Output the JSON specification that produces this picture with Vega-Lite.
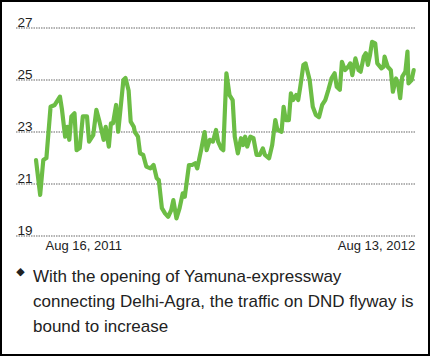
{
  "$schema": "https://vega.github.io/schema/vega-lite/v6.json",
  "width": 428,
  "height": 354,
  "padding": 1,
  "autosize": {"type": "none"},
  "background": "white",
  "config": {"view": {"stroke": "#000", "strokeWidth": 2}, "font": "Liberation Sans"},
  "title": {
    "text": ["With the opening of Yamuna-expressway", "connecting Delhi-Agra, the traffic on DND flyway is", "bound to increase"],
    "orient": "bottom", "anchor": "start", "frame": "group", "dx": 32, "offset": -73,
    "fontSize": 17, "fontWeight": "normal", "font": "Liberation Sans", "color": "#222",
    "lineHeight": 25, "baseline": "alphabetic"
  },
  "encoding": {
    "y": {"field": "v", "type": "quantitative",
          "scale": {"domain": [14.4231, 28.0385], "nice": false, "zero": false},
          "axis": {
            "values": [19, 21, 23, 25, 27], "grid": false, "domain": false, "ticks": false, "tickSize": 0,
            "labelPadding": -16, "labelAlign": "left", "labelBaseline": "alphabetic", "labelOffset": -2,
            "labelFontSize": 13.5, "labelColor": "#222", "labelFont": "Liberation Sans", "labelFlush": false,
            "title": null
          }}
  },
  "layer": [
    {
      "data": {"values": [{"v": 19}, {"v": 21}, {"v": 23}, {"v": 25}, {"v": 27}]},
      "mark": {"type": "rule", "color": "#999", "strokeWidth": 1.5, "strokeDash": [1.5, 1]},
      "encoding": {
        "x": {"datum": {"year": 2011, "month": 7, "date": 27, "hours": 18, "minutes": 42}, "type": "temporal",
              "scale": {"domain": [{"year": 2011, "month": 7, "date": 13, "hours": 8, "minutes": 36}, {"year": 2012, "month": 8, "date": 27, "hours": 16, "minutes": 48}], "nice": false},
              "axis": {
                "values": [{"year": 2011, "month": 8, "date": 16}, {"year": 2012, "month": 8, "date": 13}],
                "format": "%b %d, %Y", "offset": -118, "domain": false, "ticks": false, "tickSize": 0, "grid": false,
                "labelFlush": false, "labelOverlap": false, "labelPadding": 12.3, "labelBaseline": "alphabetic",
                "labelAlign": {"condition": {"test": "datum.index < 0.5", "value": "left"}, "value": "right"},
                "labelOffset": {"condition": {"test": "datum.index < 0.5", "value": 9}, "value": 1},
                "labelFontSize": 13, "labelColor": "#222", "labelFont": "Liberation Sans",
                "title": "◆", "titleX": 19, "titleY": 34, "titleFont": "DejaVu Sans", "titleFontSize": 11,
                "titleBaseline": "middle", "titleAlign": "center", "titleColor": "#222", "titleFontWeight": "normal"
              }},
        "x2": {"datum": {"year": 2012, "month": 8, "date": 14, "hours": 6}}
      }
    },
    {
      "data": {"values": [
        {"date": "2011/08/16", "v": 21.92}, {"date": "2011/08/20", "v": 20.58}, {"date": "2011/08/23", "v": 21.92},
        {"date": "2011/08/26", "v": 22.0}, {"date": "2011/08/30", "v": 23.97}, {"date": "2011/09/03", "v": 24.04},
        {"date": "2011/09/08", "v": 24.36}, {"date": "2011/09/10", "v": 23.85}, {"date": "2011/09/13", "v": 22.82},
        {"date": "2011/09/15", "v": 23.2}, {"date": "2011/09/17", "v": 22.7}, {"date": "2011/09/19", "v": 23.6},
        {"date": "2011/09/22", "v": 23.72}, {"date": "2011/09/24", "v": 22.3}, {"date": "2011/09/27", "v": 22.38},
        {"date": "2011/09/30", "v": 23.6}, {"date": "2011/10/04", "v": 23.6}, {"date": "2011/10/06", "v": 22.63},
        {"date": "2011/10/10", "v": 22.88}, {"date": "2011/10/13", "v": 23.85}, {"date": "2011/10/16", "v": 23.4},
        {"date": "2011/10/20", "v": 22.7}, {"date": "2011/10/22", "v": 23.2}, {"date": "2011/10/25", "v": 22.44},
        {"date": "2011/10/27", "v": 23.33}, {"date": "2011/10/29", "v": 23.33}, {"date": "2011/11/01", "v": 24.04},
        {"date": "2011/11/03", "v": 23.01}, {"date": "2011/11/08", "v": 25.0}, {"date": "2011/11/10", "v": 25.08},
        {"date": "2011/11/13", "v": 24.6}, {"date": "2011/11/15", "v": 23.4}, {"date": "2011/11/18", "v": 23.2},
        {"date": "2011/11/19", "v": 23.0}, {"date": "2011/11/22", "v": 22.82}, {"date": "2011/11/24", "v": 22.18},
        {"date": "2011/11/27", "v": 22.12}, {"date": "2011/11/30", "v": 21.67}, {"date": "2011/12/04", "v": 21.6},
        {"date": "2011/12/07", "v": 21.73}, {"date": "2011/12/10", "v": 21.22}, {"date": "2011/12/12", "v": 21.15},
        {"date": "2011/12/15", "v": 20.07}, {"date": "2011/12/18", "v": 19.87}, {"date": "2011/12/21", "v": 19.74},
        {"date": "2011/12/24", "v": 20.0}, {"date": "2011/12/26", "v": 20.38}, {"date": "2011/12/29", "v": 19.68},
        {"date": "2012/01/01", "v": 20.07}, {"date": "2012/01/04", "v": 20.64}, {"date": "2012/01/06", "v": 20.51},
        {"date": "2012/01/10", "v": 21.73}, {"date": "2012/01/13", "v": 21.73}, {"date": "2012/01/16", "v": 21.8},
        {"date": "2012/01/18", "v": 21.6}, {"date": "2012/01/22", "v": 22.37}, {"date": "2012/01/25", "v": 23.0},
        {"date": "2012/01/27", "v": 22.3}, {"date": "2012/01/30", "v": 22.7}, {"date": "2012/02/02", "v": 22.63},
        {"date": "2012/02/05", "v": 23.08}, {"date": "2012/02/07", "v": 22.63}, {"date": "2012/02/10", "v": 22.37},
        {"date": "2012/02/12", "v": 22.3}, {"date": "2012/02/15", "v": 25.26}, {"date": "2012/02/18", "v": 24.42},
        {"date": "2012/02/21", "v": 24.23}, {"date": "2012/02/23", "v": 22.82}, {"date": "2012/02/26", "v": 22.18},
        {"date": "2012/02/29", "v": 22.76}, {"date": "2012/03/02", "v": 22.5}, {"date": "2012/03/04", "v": 22.82},
        {"date": "2012/03/06", "v": 22.44}, {"date": "2012/03/09", "v": 22.82}, {"date": "2012/03/12", "v": 22.76},
        {"date": "2012/03/15", "v": 22.12}, {"date": "2012/03/18", "v": 22.12}, {"date": "2012/03/21", "v": 22.37},
        {"date": "2012/03/23", "v": 22.12}, {"date": "2012/03/27", "v": 21.99}, {"date": "2012/03/30", "v": 22.5},
        {"date": "2012/04/02", "v": 23.46}, {"date": "2012/04/04", "v": 23.08}, {"date": "2012/04/08", "v": 23.01},
        {"date": "2012/04/10", "v": 23.97}, {"date": "2012/04/12", "v": 23.46}, {"date": "2012/04/15", "v": 23.46},
        {"date": "2012/04/17", "v": 24.49}, {"date": "2012/04/19", "v": 24.23}, {"date": "2012/04/22", "v": 24.42},
        {"date": "2012/04/24", "v": 24.23}, {"date": "2012/04/26", "v": 24.74}, {"date": "2012/04/29", "v": 25.58},
        {"date": "2012/05/01", "v": 25.64}, {"date": "2012/05/05", "v": 25.0}, {"date": "2012/05/08", "v": 23.97},
        {"date": "2012/05/11", "v": 23.65}, {"date": "2012/05/14", "v": 23.57}, {"date": "2012/05/17", "v": 24.04},
        {"date": "2012/05/20", "v": 24.23}, {"date": "2012/05/23", "v": 24.62}, {"date": "2012/05/26", "v": 25.06},
        {"date": "2012/05/29", "v": 25.26}, {"date": "2012/05/31", "v": 24.74}, {"date": "2012/06/03", "v": 24.62},
        {"date": "2012/06/05", "v": 25.7}, {"date": "2012/06/08", "v": 25.38}, {"date": "2012/06/11", "v": 25.51},
        {"date": "2012/06/13", "v": 25.64}, {"date": "2012/06/15", "v": 25.19}, {"date": "2012/06/18", "v": 25.83},
        {"date": "2012/06/21", "v": 25.38}, {"date": "2012/06/23", "v": 25.32}, {"date": "2012/06/26", "v": 25.9},
        {"date": "2012/06/28", "v": 26.03}, {"date": "2012/06/30", "v": 25.58}, {"date": "2012/07/02", "v": 25.96},
        {"date": "2012/07/04", "v": 26.47}, {"date": "2012/07/07", "v": 26.41}, {"date": "2012/07/09", "v": 25.64},
        {"date": "2012/07/13", "v": 25.45}, {"date": "2012/07/15", "v": 25.51}, {"date": "2012/07/16", "v": 25.9},
        {"date": "2012/07/19", "v": 25.51}, {"date": "2012/07/22", "v": 25.38}, {"date": "2012/07/24", "v": 24.55},
        {"date": "2012/07/27", "v": 25.06}, {"date": "2012/07/29", "v": 24.87}, {"date": "2012/07/31", "v": 24.3},
        {"date": "2012/08/02", "v": 25.13}, {"date": "2012/08/05", "v": 25.32}, {"date": "2012/08/07", "v": 26.09},
        {"date": "2012/08/08", "v": 24.87}, {"date": "2012/08/11", "v": 25.0}, {"date": "2012/08/13", "v": 25.38}
      ]},
      "mark": {"type": "line", "color": "#6cbd45", "strokeWidth": 4.2, "strokeJoin": "round", "strokeCap": "round"},
      "encoding": {
        "x": {"field": "date", "type": "temporal",
              "scale": {"domain": [{"year": 2011, "month": 7, "date": 13, "hours": 8, "minutes": 36}, {"year": 2012, "month": 8, "date": 27, "hours": 16, "minutes": 48}], "nice": false},
              "axis": {
                "values": [{"year": 2011, "month": 8, "date": 16}, {"year": 2012, "month": 8, "date": 13}],
                "format": "%b %d, %Y", "offset": -118, "domain": false, "ticks": false, "tickSize": 0, "grid": false,
                "labelFlush": false, "labelOverlap": false, "labelPadding": 12.3, "labelBaseline": "alphabetic",
                "labelAlign": {"condition": {"test": "datum.index < 0.5", "value": "left"}, "value": "right"},
                "labelOffset": {"condition": {"test": "datum.index < 0.5", "value": 9}, "value": 1},
                "labelFontSize": 13, "labelColor": "#222", "labelFont": "Liberation Sans",
                "title": "◆", "titleX": 19, "titleY": 34, "titleFont": "DejaVu Sans", "titleFontSize": 11,
                "titleBaseline": "middle", "titleAlign": "center", "titleColor": "#222", "titleFontWeight": "normal"
              }}
      }
    }
  ]
}
